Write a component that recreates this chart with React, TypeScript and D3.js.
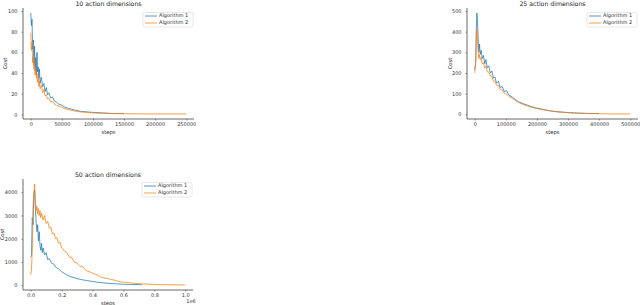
import { useEffect, useRef } from 'react';
import * as d3 from 'd3';

const SERIES_NAMES = ['Algorithm 1', 'Algorithm 2'];
const COLORS = ['#1f77b4', '#ff7f0e'];

// 10 action dimensions
const steps10a = [0, 1000, 2000, 3000, 4000, 5000, 6000, 7000, 8000, 9000, 10000, 11000, 12000, 13000, 14000, 15000, 17000, 19000, 21000, 23000, 25000, 27000, 29000, 32000, 35000, 38000, 41000, 45000, 50000, 55000, 60000, 66000, 73000, 80000, 90000, 100000, 115000, 130000, 150000];
const cost10a = [98, 86, 92, 63, 72, 48, 66, 42, 55, 38, 60, 41, 46, 35, 44, 30, 36, 27, 30, 22, 26, 19, 21, 16, 17, 13, 12, 10, 9, 7, 6, 5, 4, 3, 2.5, 2, 1.5, 1, 1];
const steps10b = [0, 1000, 2000, 3000, 4000, 5000, 6000, 7000, 8000, 9000, 10000, 11000, 12000, 13000, 14000, 15000, 17000, 19000, 21000, 23000, 25000, 27000, 29000, 32000, 35000, 38000, 41000, 45000, 50000, 55000, 60000, 66000, 73000, 80000, 90000, 100000, 120000, 140000, 170000, 200000, 230000, 250000];
const cost10b = [79, 62, 70, 50, 56, 44, 52, 38, 45, 35, 40, 31, 36, 27, 32, 25, 28, 21, 24, 18, 19, 15, 16, 12, 13, 10, 9, 8, 7, 5.5, 5, 4, 3, 2.5, 2, 1.5, 1, 0.8, 0.6, 0.5, 0.5, 0.5];
const xTicks10 = [0, 50000, 100000, 150000, 200000, 250000];
const yTicks10 = [0, 20, 40, 60, 80, 100];

// 25 action dimensions
const steps25a = [0, 3000, 5000, 7000, 9000, 11000, 13000, 15000, 18000, 21000, 24000, 28000, 32000, 36000, 40000, 45000, 50000, 55000, 60000, 65000, 70000, 76000, 82000, 88000, 95000, 102000, 110000, 120000, 130000, 140000, 155000, 170000, 185000, 200000, 220000, 240000, 265000, 290000, 320000, 360000, 400000];
const cost25a = [215, 250, 420, 490, 440, 360, 300, 340, 290, 310, 270, 285, 245, 265, 225, 235, 200, 210, 175, 180, 150, 160, 130, 135, 110, 115, 92, 85, 72, 62, 52, 44, 36, 30, 24, 18, 13, 10, 7, 5, 4];
const steps25b = [0, 3000, 5000, 7000, 9000, 11000, 13000, 15000, 18000, 21000, 24000, 28000, 32000, 36000, 40000, 45000, 50000, 55000, 60000, 65000, 70000, 76000, 82000, 88000, 95000, 102000, 110000, 120000, 130000, 140000, 155000, 170000, 185000, 200000, 220000, 240000, 265000, 290000, 320000, 360000, 400000, 450000, 500000];
const cost25b = [200, 260, 380, 410, 360, 300, 270, 290, 265, 275, 245, 250, 225, 235, 205, 205, 185, 185, 160, 160, 140, 140, 120, 118, 102, 98, 86, 78, 68, 58, 48, 40, 33, 28, 22, 17, 12, 9, 6, 4, 3, 2, 2];
const xTicks25 = [0, 100000, 200000, 300000, 400000, 500000];
const yTicks25 = [0, 100, 200, 300, 400, 500];

// 50 action dimensions
const steps50a = [0, 5000, 10000, 15000, 20000, 25000, 30000, 35000, 40000, 45000, 50000, 55000, 60000, 65000, 70000, 75000, 80000, 90000, 100000, 110000, 120000, 135000, 150000, 165000, 180000, 200000, 220000, 240000, 260000, 280000, 300000, 330000, 360000, 400000, 440000, 480000, 520000, 560000, 600000, 650000, 700000, 720000];
const cost50a = [1200, 1300, 2900, 2600, 3900, 4100, 3300, 2700, 2300, 2600, 1900, 2300, 1700, 1500, 1800, 1400, 1600, 1300, 1400, 1100, 1150, 950, 900, 760, 700, 580, 500, 420, 360, 330, 280, 240, 200, 160, 120, 95, 70, 55, 40, 30, 25, 22];
const steps50b = [0, 5000, 10000, 15000, 20000, 25000, 30000, 35000, 40000, 45000, 50000, 55000, 60000, 65000, 70000, 80000, 90000, 100000, 110000, 120000, 130000, 140000, 150000, 160000, 170000, 180000, 190000, 200000, 210000, 220000, 235000, 250000, 265000, 280000, 300000, 320000, 340000, 360000, 380000, 400000, 430000, 460000, 500000, 540000, 580000, 620000, 670000, 720000, 780000, 850000, 920000, 1000000];
const cost50b = [450, 700, 1500, 3400, 3900, 4350, 3700, 3200, 3400, 3050, 3300, 3000, 3200, 2900, 3100, 2800, 3000, 2650, 2750, 2450, 2500, 2200, 2250, 2000, 2050, 1800, 1850, 1600, 1550, 1450, 1400, 1200, 1200, 1000, 950, 800, 780, 620, 580, 520, 440, 330, 280, 220, 140, 120, 80, 55, 35, 25, 15, 10];
const xTicks50 = [0, 200000, 400000, 600000, 800000, 1000000];
const yTicks50 = [0, 1000, 2000, 3000, 4000];

interface Series { steps: number[]; cost: number[]; }
interface PanelSpec {
  title: string;
  series: Series[];
  xTicks: number[];
  yTicks: number[];
  xFormat: (v: number) => string;
  offset?: string;
  left: number; right: number; top: number; bottom: number;
  ylabelX: number;
  legendY: number;
}

const panels: PanelSpec[] = [
  {
    title: '10 action dimensions',
    series: [{ steps: steps10a, cost: cost10a }, { steps: steps10b, cost: cost10b }],
    xTicks: xTicks10, yTicks: yTicks10, xFormat: d3.format('d'),
    left: 23, right: 194, top: 8, bottom: 119, ylabelX: 6, legendY: 12.5,
  },
  {
    title: '25 action dimensions',
    series: [{ steps: steps25a, cost: cost25a }, { steps: steps25b, cost: cost25b }],
    xTicks: xTicks25, yTicks: yTicks25, xFormat: d3.format('d'),
    left: 467, right: 638, top: 8, bottom: 119, ylabelX: 451, legendY: 12.5,
  },
  {
    title: '50 action dimensions',
    series: [{ steps: steps50a, cost: cost50a }, { steps: steps50b, cost: cost50b }],
    xTicks: xTicks50, yTicks: yTicks50, xFormat: v => (v / 1e6).toFixed(1), offset: '1e6',
    left: 23, right: 193, top: 179, bottom: 290, ylabelX: 3, legendY: 182.5,
  },
];

function pad(ext: [number, number]): [number, number] {
  const m = (ext[1] - ext[0]) * 0.05;
  return [ext[0] - m, ext[1] + m];
}

export default function App() {
  const svgRef = useRef<SVGSVGElement>(null);

  useEffect(() => {
    document.body.style.margin = '0';
    if (!svgRef.current) return;
    const svg = d3.select(svgRef.current);
    svg.selectAll('*').remove();
    const font = 'DejaVu Sans, sans-serif';

    panels.forEach(p => {
      const allSteps = p.series.flatMap(s => s.steps);
      const allCost = p.series.flatMap(s => s.cost);
      const x = d3.scaleLinear()
        .domain(pad(d3.extent(allSteps) as [number, number]))
        .range([p.left, p.right]);
      const y = d3.scaleLinear()
        .domain(pad(d3.extent(allCost) as [number, number]))
        .range([p.bottom, p.top]);

      const g = svg.append('g');

      // Lines
      const line = d3.line<[number, number]>().x(d => x(d[0])).y(d => y(d[1]));
      p.series.forEach((s, i) => {
        const pts = s.steps.map((st, j) => [st, s.cost[j]] as [number, number]);
        g.append('path')
          .attr('d', line(pts))
          .attr('fill', 'none')
          .attr('stroke', COLORS[i])
          .attr('stroke-width', 1)
          .attr('stroke-opacity', 0.75);
      });

      // Axes
      const xAxis = d3.axisBottom(x).tickValues(p.xTicks).tickFormat(v => p.xFormat(+v)).tickSize(1.5).tickPadding(2);
      const yAxis = d3.axisLeft(y).tickValues(p.yTicks).tickFormat(d3.format('d')).tickSize(1.5).tickPadding(4);
      const gx = g.append('g').attr('transform', `translate(0,${p.bottom})`).call(xAxis);
      const gy = g.append('g').attr('transform', `translate(${p.left},0)`).call(yAxis);
      [gx, gy].forEach(a => {
        a.select('.domain').attr('stroke', '#444').attr('stroke-width', 0.8);
        a.selectAll('.tick line').attr('stroke', '#444').attr('stroke-width', 0.6);
        a.selectAll('.tick text').attr('font-family', font).attr('font-size', 5).attr('fill', '#333');
      });
      gx.select('.domain').attr('d', `M${p.left},0H${p.right}`);
      gy.select('.domain').attr('d', `M0,${p.bottom}V${p.top}`);

      // Title and labels
      g.append('text')
        .attr('x', (p.left + p.right) / 2).attr('y', p.top - 2)
        .attr('text-anchor', 'middle')
        .attr('font-family', font).attr('font-size', 6.2).attr('fill', '#222')
        .text(p.title);
      g.append('text')
        .attr('x', (p.left + p.right) / 2).attr('y', p.bottom + 15)
        .attr('text-anchor', 'middle')
        .attr('font-family', font).attr('font-size', 5.2).attr('fill', '#222')
        .text('steps');
      g.append('text')
        .attr('transform', `translate(${p.ylabelX},${(p.top + p.bottom) / 2}) rotate(-90)`)
        .attr('text-anchor', 'middle').attr('dominant-baseline', 'middle')
        .attr('font-family', font).attr('font-size', 5.2).attr('fill', '#222')
        .text('Cost');
      if (p.offset) {
        g.append('text')
          .attr('x', p.right - 2).attr('y', p.bottom + 13)
          .attr('text-anchor', 'middle')
          .attr('font-family', font).attr('font-size', 5).attr('fill', '#333')
          .text(p.offset);
      }

      // Legend
      const lx = p.right - 51;
      const lg = g.append('g').attr('transform', `translate(${lx},${p.legendY})`);
      lg.append('rect')
        .attr('width', 50).attr('height', 14.5).attr('rx', 1.5)
        .attr('fill', 'white').attr('fill-opacity', 0.8)
        .attr('stroke', '#d6d6d6').attr('stroke-width', 0.6);
      SERIES_NAMES.forEach((name, i) => {
        const yy = 3.5 + i * 7;
        lg.append('line')
          .attr('x1', 2).attr('x2', 14).attr('y1', yy).attr('y2', yy)
          .attr('stroke', COLORS[i]).attr('stroke-width', 1).attr('stroke-opacity', 0.75);
        lg.append('text')
          .attr('x', 16).attr('y', yy)
          .attr('dominant-baseline', 'middle')
          .attr('font-family', font).attr('font-size', 5).attr('fill', '#333')
          .text(name);
      });
    });
  }, []);

  return <svg ref={svgRef} width={640} height={305} style={{ display: 'block', background: 'white' }} />;
}
